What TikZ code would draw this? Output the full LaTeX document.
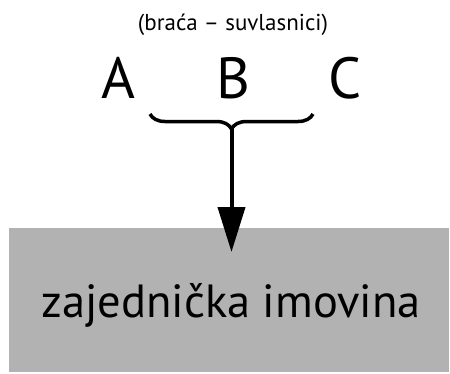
\documentclass[tikz,border=0pt]{standalone}
\usepackage{fontspec}
\setmainfont{PT Sans}
\usetikzlibrary{arrows.meta,decorations.pathreplacing}
\definecolor{boxgray}{HTML}{B2B2B2}
\tikzset{
  letter/.style={anchor=base,inner sep=0pt,font=\fontsize{58}{60}\selectfont},
  note/.style={anchor=base,inner sep=0pt,font=\fontsize{23}{26}\selectfont},
  sharebox/.style={fill=boxgray,draw=none,inner sep=0pt},
  label/.style={anchor=base,inner sep=0pt,font=\fontsize{46.5}{50}\selectfont},
  bracestyle/.style={decorate,decoration={brace,amplitude=15pt},line width=3.5pt},
  arrowstyle/.style={line width=4pt,-{Triangle[width=27pt,length=45pt]}}
}
\begin{document}
\begin{tikzpicture}[x=1pt,y=-1pt]
\useasboundingbox (0,0) rectangle (450,373);
\node[sharebox,minimum width=440pt,minimum height=144pt,anchor=north west] (box) at (9,228) {};
\node[label] (txt) at (231,317) {zajednička imovina};
\node[note] (note) at (233,30) {(braća – suvlasnici)};
\node[letter] (A) at (118.5,98) {A};
\node[letter] (B) at (233,98) {B};
\node[letter] (C) at (345.5,98) {C};
\coordinate (bl) at (150,114);
\coordinate (br) at (313,114);
\draw[bracestyle] (br) -- (bl);
\coordinate (tip) at (231.5,127);
\coordinate (end) at (231.5,252);
\draw[arrowstyle] (tip) -- (end);
\end{tikzpicture}
\end{document}
